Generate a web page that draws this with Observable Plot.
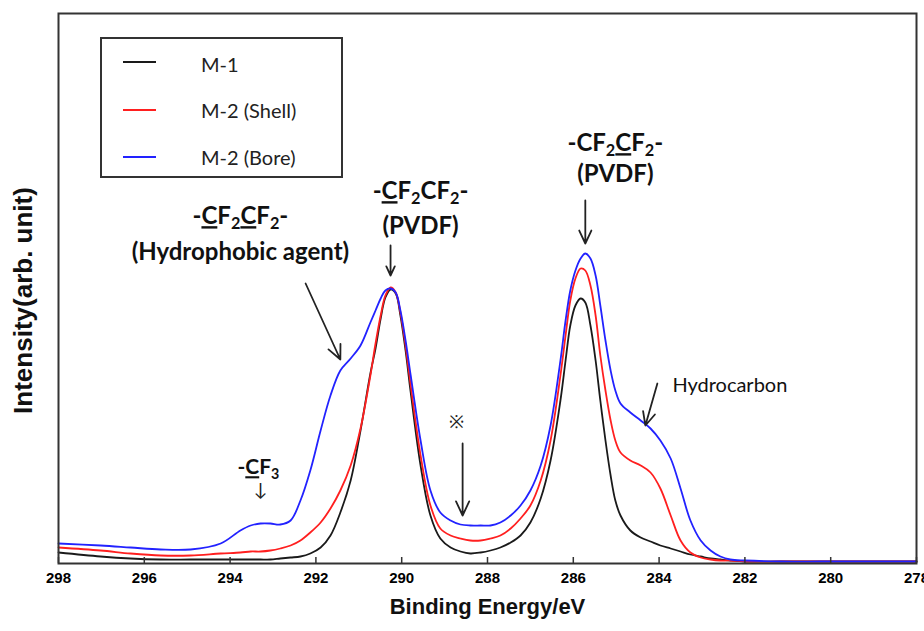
<!DOCTYPE html>
<html><head><meta charset="utf-8">
<script src="https://cdn.jsdelivr.net/npm/d3@7"></script>
<script src="https://cdn.jsdelivr.net/npm/@observablehq/plot@0.6"></script>
<style>
body{margin:0;background:#fff;}
#wrap{position:relative;width:924px;height:631px;overflow:hidden;}
.legend{position:absolute;left:100px;top:37px;width:243px;height:141px;border:2px solid #333;box-sizing:border-box;background:#fff;font-family:Lato,"Open Sans",sans-serif;font-size:20px;color:#222;}
.legend .row{position:absolute;left:0;height:20px;}
.legend .sw{position:absolute;left:21px;width:33px;height:2px;}
.legend .lb{position:absolute;left:99px;white-space:nowrap;line-height:20px;}
</style></head><body><div id="wrap"></div>
<script>
// Binding energy (eV) sample positions
const energy = [298.00,297.02,296.32,295.62,294.92,294.22,293.76,293.52,293.29,293.06,292.83,292.59,292.36,292.13,291.89,291.66,291.43,291.19,290.96,290.73,290.61,290.49,290.38,290.26,290.14,290.03,289.91,289.79,289.56,289.33,289.10,288.86,288.63,288.40,288.16,287.93,287.70,287.46,287.23,287.00,286.76,286.53,286.30,286.18,286.07,285.95,285.83,285.72,285.60,285.48,285.37,285.25,285.13,285.02,284.90,284.67,284.43,284.20,283.97,283.73,283.50,283.27,283.03,282.80,282.57,282.34,281.99,281.17,280.24,279.31,278.00];
// Intensities (arb. unit)
const m1 = [11,7,5,4,4,4,4,4,4,4,5,6,7,10,16,28,51,83,133,190,215,245,266,274,270,248,213,171,98,48,25,16,12,10,11,13,16,21,28,41,65,103,163,203,238,258,265,261,238,203,163,123,88,63,48,33,26,22,18,15,12,9,7,5,4,3,2,2,2,2,2];
const m2Shell = [16,13,10,8,8,10,11,12,12,13,15,18,23,31,41,55,73,98,135,188,220,248,268,276,271,251,218,178,108,58,35,28,25,23,23,25,28,35,45,58,83,123,188,228,263,285,295,293,278,248,208,173,143,123,111,103,98,91,75,48,23,11,6,4,3,3,2,2,2,2,2];
const m2Bore = [20,18,16,14,14,20,33,38,40,40,39,43,63,93,133,168,193,205,218,241,253,265,273,275,271,253,223,188,123,73,51,43,39,38,38,38,41,48,58,73,98,138,203,243,273,293,305,310,305,288,258,223,193,173,160,151,143,135,123,105,75,43,23,13,7,4,3,2,2,2,2];

const seriesNames = ["M-1","M-2 (Shell)","M-2 (Bore)"];
const seriesColors = ["#1a1a1a","#ff1f1f","#2222ff"];
const xTicks = [298,296,294,292,290,288,286,284,282,280,278];

// Annotations (data coordinates); "_" marks an underlined letter, digits become subscripts
const boldText = ["-_CF2_CF2-","(Hydrophobic agent)","-_CF2CF2-","(PVDF)","-CF2_CF2-","(PVDF)"];
const boldE = [293.76,293.76,289.56,289.56,285.02,285.02];
const boldI = [347,311,372,337,420,389];
const cf3Text = ["-_CF3"], cf3E = [293.34], cf3I = [96];
const smallText = ["↓","※"], smallE = [293.29,288.72], smallI = [73,141];
const hcText = ["Hydrocarbon"], hcE = [283.69], hcI = [178];
const arrowE1 = [292.24,290.26,285.72,284.04,288.58];
const arrowI1 = [280,318,363,180,120];
const arrowE2 = [291.43,290.26,285.72,284.32,288.58];
const arrowI2 = [204,288,320,138,48];

const rows = [];
[m1,m2Shell,m2Bore].forEach((vals,i)=>energy.forEach((e,j)=>rows.push({series:seriesNames[i],energy:e,intensity:vals[j]})));
const idx = a => a.map((_,i)=>i);

const plot = Plot.plot({
  width:924,height:631,marginLeft:58,marginRight:8,marginTop:13,marginBottom:68,
  x:{domain:[298,278],label:null},
  y:{domain:[0,550],axis:null,label:null},
  color:{domain:seriesNames,range:seriesColors},
  style:{fontFamily:"Lato, sans-serif",background:"white",overflow:"visible"},
  marks:[
    Plot.line(rows,{x:"energy",y:"intensity",stroke:"series",strokeWidth:1.8,curve:"catmull-rom"}),
    Plot.ruleX(xTicks,{x:d=>d,y1:0,y2:6,stroke:"#333",strokeWidth:1.5}),
    Plot.axisX({ticks:xTicks,tickSize:0,tickPadding:9,fontSize:15,fontWeight:"bold",fontFamily:"'Liberation Sans Narrow', 'Liberation Sans', sans-serif",tickFormat:d=>String(d),label:null}),
    Plot.frame({stroke:"#333",strokeWidth:2}),
    Plot.arrow(idx(arrowE1),{x1:i=>arrowE1[i],y1:i=>arrowI1[i],x2:i=>arrowE2[i],y2:i=>arrowI2[i],stroke:"#222",strokeWidth:1.8,headLength:13,headAngle:50}),
    Plot.text(idx(boldText),{x:i=>boldE[i],y:i=>boldI[i],text:i=>boldText[i],fontSize:24,fontWeight:"bold",fill:"#111"}),
    Plot.text(idx(cf3Text),{x:i=>cf3E[i],y:i=>cf3I[i],text:i=>cf3Text[i],fontSize:21,fontWeight:"bold",fill:"#111"}),
    Plot.text(idx(smallText),{x:i=>smallE[i],y:i=>smallI[i],text:i=>smallText[i],fontSize:18,fill:"#222"}),
    Plot.text(idx(hcText),{x:i=>hcE[i],y:i=>hcI[i],text:i=>hcText[i],fontSize:20,textAnchor:"start",fill:"#111"}),
    Plot.text(["Binding Energy/eV"],{text:d=>d,frameAnchor:"bottom",dy:50,fontSize:22,fontWeight:"bold",fontFamily:"'Liberation Sans', Arial, sans-serif",fill:"#111"}),
    Plot.text(["Intensity(arb. unit)"],{text:d=>d,frameAnchor:"left",textAnchor:"middle",rotate:-90,dx:-35,dy:12,fontSize:26,fontWeight:"bold",fontFamily:"'Liberation Sans', Arial, sans-serif",fill:"#111"})
  ]
});

// subscripts and underlines in chemical labels
const NS = "http://www.w3.org/2000/svg";
d3.select(plot).selectAll("text").each(function(){
  const el = this, s = el.textContent;
  if (!(s.includes("_") || /F\d/.test(s))) return;
  const base = s.includes("CF3") ? 21 : 24;
  el.textContent = "";
  let shifted = false;
  for (let i=0;i<s.length;i++){
    let ch = s[i], ul = false;
    if (ch==="_"){ul=true;ch=s[++i];}
    const t = document.createElementNS(NS,"tspan");
    t.textContent = ch;
    if (/[0-9]/.test(ch)){
      t.setAttribute("font-size",base*0.68);
      if(!shifted){t.setAttribute("dy",base*0.22);shifted=true;}
    } else if (shifted){t.setAttribute("dy",-base*0.22);shifted=false;}
    if (ul) t.setAttribute("text-decoration","underline");
    el.appendChild(t);
  }
});

const wrap = document.getElementById("wrap");
wrap.appendChild(plot);

// legend
const leg = document.createElement("div");
leg.className = "legend";
const rowTops = [23,71,118];
seriesNames.forEach((n,i)=>{
  const r = document.createElement("div"); r.className="row"; r.style.top=(rowTops[i]-10)+"px";
  const sw = document.createElement("div"); sw.className="sw"; sw.style.top="9px"; sw.style.background=seriesColors[i];
  const lb = document.createElement("div"); lb.className="lb"; lb.textContent=n; lb.style.top=(i===0?"2px":"0px");
  r.appendChild(sw); r.appendChild(lb); leg.appendChild(r);
});
wrap.appendChild(leg);
</script></body></html>
